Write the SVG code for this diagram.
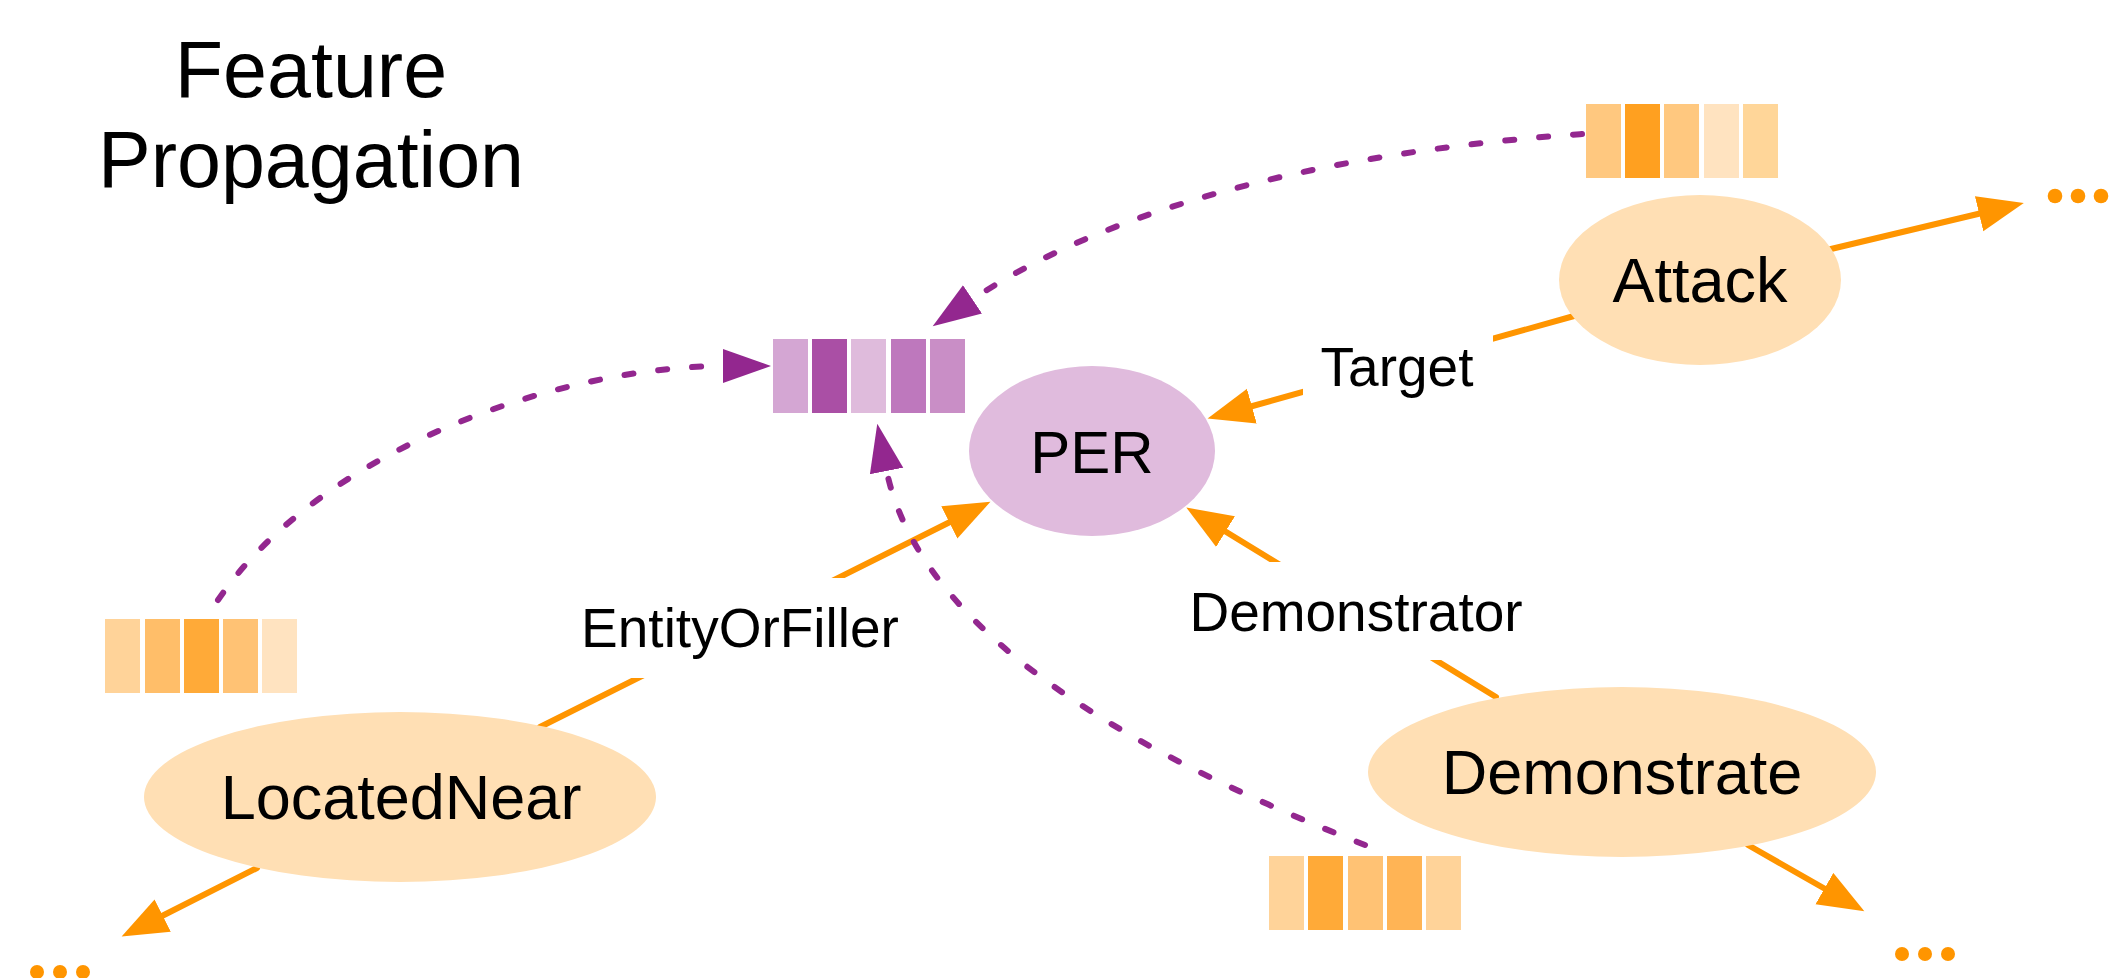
<svg xmlns="http://www.w3.org/2000/svg" width="2109" height="978" viewBox="0 0 2109 978">
<style>
text{font-family:"Liberation Sans",Arial,Helvetica,sans-serif;fill:#000;text-anchor:middle}
.node{font-size:63px}
.lbl{font-size:55px}
.title{font-size:79px}
.orange{fill:#FFDFB4}
.edge{stroke:#FF9500;stroke-width:6;fill:none;stroke-linecap:round}
.prop{stroke:#93278F;stroke-width:6;fill:none;stroke-linecap:round;stroke-dasharray:9 25}
.dot{fill:#FF9500}
.bg{fill:#fff}
</style>
<defs>
<marker id="oa" markerUnits="userSpaceOnUse" markerWidth="48" markerHeight="38" refX="3" refY="18" orient="auto">
<path d="M0,0 L46,18 L0,36 Z" fill="#FF9500"/>
</marker>
<marker id="pa" markerUnits="userSpaceOnUse" markerWidth="50" markerHeight="36" refX="3" refY="17" orient="auto">
<path d="M0,0 L48,17 L0,34 Z" fill="#93278F"/>
</marker>
</defs>

<g id="title">
<text class="title" x="311" y="97">Feature</text>
<text class="title" x="311" y="187">Propagation</text>
</g>

<g id="connectors">
<line class="edge" x1="1831" y1="249" x2="1982" y2="213" marker-end="url(#oa)"/>
<line class="edge" x1="1574" y1="316" x2="1249" y2="407" marker-end="url(#oa)"/>
<line class="edge" x1="540" y1="727" x2="952" y2="521" marker-end="url(#oa)"/>
<line class="edge" x1="1496" y1="697" x2="1223" y2="530" marker-end="url(#oa)"/>
<line class="edge" x1="257" y1="868" x2="160" y2="917" marker-end="url(#oa)"/>
<line class="edge" x1="1748" y1="845" x2="1827" y2="890" marker-end="url(#oa)"/>
<path class="prop" d="M1582,134 C1350,150 1120,200 970,301" marker-end="url(#pa)"/>
<path class="prop" d="M218,600 C320,450 560,366 726,366" marker-end="url(#pa)"/>
<path class="prop" d="M1365,845 C1150,760 920,640 886,468" marker-end="url(#pa)"/>
</g>

<g id="label-target">
<rect class="bg" x="1303" y="332" width="190" height="70"/>
<text class="lbl" x="1397" y="386">Target</text>
</g>
<g id="label-entityorfiller">
<rect class="bg" x="570" y="578" width="340" height="100"/>
<text class="lbl" x="740" y="647">EntityOrFiller</text>
</g>
<g id="label-demonstrator">
<rect class="bg" x="1180" y="562" width="350" height="98"/>
<text class="lbl" x="1356" y="631">Demonstrator</text>
</g>

<g id="node-per">
<ellipse cx="1092" cy="451" rx="123" ry="85" fill="#E0BBDD"/>
<text class="node" x="1092" y="473" style="font-size:60px">PER</text>
</g>
<g id="node-attack">
<ellipse class="orange" cx="1700" cy="280" rx="141" ry="85"/>
<text class="node" x="1700" y="302">Attack</text>
</g>
<g id="node-locatednear">
<ellipse class="orange" cx="400" cy="797" rx="256" ry="85"/>
<text class="node" x="401" y="819">LocatedNear</text>
</g>
<g id="node-demonstrate">
<ellipse class="orange" cx="1622" cy="772" rx="254" ry="85"/>
<text class="node" x="1622" y="794">Demonstrate</text>
</g>

<g id="vec-per">
<rect x="773" y="339" width="35" height="74" fill="#D4A6D3"/>
<rect x="812" y="339" width="35" height="74" fill="#AA4FA5"/>
<rect x="851" y="339" width="35" height="74" fill="#DFBBDC"/>
<rect x="891" y="339" width="35" height="74" fill="#BE78BD"/>
<rect x="930" y="339" width="35" height="74" fill="#C98EC6"/>
</g>
<g id="vec-attack">
<rect x="1586" y="104" width="35" height="74" fill="#FFC87F"/>
<rect x="1625" y="104" width="35" height="74" fill="#FFA020"/>
<rect x="1664" y="104" width="35" height="74" fill="#FFC87F"/>
<rect x="1704" y="104" width="35" height="74" fill="#FFE3C0"/>
<rect x="1743" y="104" width="35" height="74" fill="#FFD699"/>
</g>
<g id="vec-locatednear">
<rect x="105" y="619" width="35" height="74" fill="#FFD399"/>
<rect x="145" y="619" width="35" height="74" fill="#FFBE69"/>
<rect x="184" y="619" width="35" height="74" fill="#FFAA38"/>
<rect x="223" y="619" width="35" height="74" fill="#FFC274"/>
<rect x="262" y="619" width="35" height="74" fill="#FFE3C0"/>
</g>
<g id="vec-demonstrate">
<rect x="1269" y="856" width="35" height="74" fill="#FFD399"/>
<rect x="1308" y="856" width="35" height="74" fill="#FFAA38"/>
<rect x="1348" y="856" width="35" height="74" fill="#FFC274"/>
<rect x="1387" y="856" width="35" height="74" fill="#FFB455"/>
<rect x="1426" y="856" width="35" height="74" fill="#FFD399"/>
</g>

<g id="ellipsis-attack">
<circle class="dot" cx="2055" cy="196" r="7.3"/>
<circle class="dot" cx="2078" cy="196" r="7.3"/>
<circle class="dot" cx="2101" cy="196" r="7.3"/>
</g>
<g id="ellipsis-locatednear">
<circle class="dot" cx="37" cy="972" r="7"/>
<circle class="dot" cx="60" cy="972" r="7"/>
<circle class="dot" cx="83" cy="972" r="7"/>
</g>
<g id="ellipsis-demonstrate">
<circle class="dot" cx="1902" cy="954" r="7"/>
<circle class="dot" cx="1925" cy="954" r="7"/>
<circle class="dot" cx="1948" cy="954" r="7"/>
</g>
</svg>
